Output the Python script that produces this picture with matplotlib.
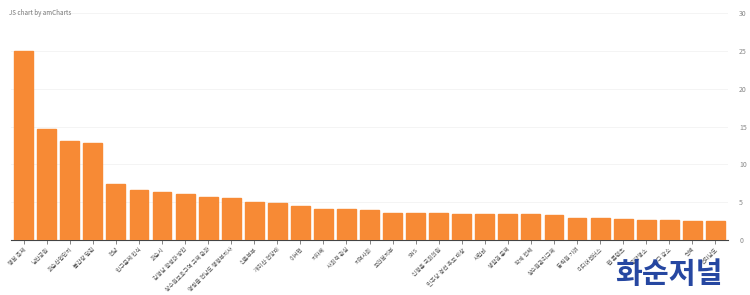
import matplotlib
matplotlib.use("Agg")
import matplotlib.pyplot as plt

plt.rcParams['font.family'] = ['Noto Sans CJK KR', 'DejaVu Sans']

keywords = [
    "행복 축제", "남산공원", "화순산업단지", "불갑장 달린", "전남",
    "인구문제 인식", "화순시", "김영남 활성화 방안", "상수원보호구역 규제 완화",
    "명칭을 전남도 행정부지사", "신혼부부", "개미산 전망대", "이서면", "지자체",
    "사회적 관심", "지역사회", "보건복지부", "SNS", "신정훈 국회의원",
    "민주당 경선 후보 대상", "사업비", "생활권 문제", "학계 전체",
    "상수원관리규제", "동력원 기여", "미디어센터스", "웹 콘텐츠", "관광명소",
    "인구 감소", "혁백", "전라남도",
]
scores = [
    25.0, 14.7, 13.1, 12.8, 7.4, 6.6, 6.3, 6.1, 5.7, 5.5, 5.0, 4.9, 4.5, 4.1,
    4.1, 4.0, 3.6, 3.6, 3.6, 3.4, 3.4, 3.4, 3.4, 3.3, 2.9, 2.9, 2.8, 2.6, 2.6,
    2.5, 2.5,
]
y_ticks = [0, 5, 10, 15, 20, 25, 30]

fig = plt.figure(figsize=(7.5, 2.95), dpi=100)
ax = fig.add_axes([0.0147, 0.1864, 0.956, 0.7695])

x = list(range(len(keywords)))
ax.bar(x, scores, width=0.82, color="#F78A35", edgecolor="#F78A35", zorder=3)

ax.set_xlim(-0.55, len(keywords) - 0.45)
ax.set_ylim(0, 30)
ax.yaxis.tick_right()
ax.set_yticks(y_ticks)
ax.set_yticklabels([str(v) for v in y_ticks], fontsize=5, color="#888888")
ax.tick_params(axis="y", length=0, pad=8)
ax.grid(axis="y", color="#f2f2f2", linewidth=0.6, zorder=0)

ax.set_xticks(x)
ax.set_xticklabels(keywords, rotation=45, ha="right", rotation_mode="anchor",
                   fontsize=4.1, color="#555555")
ax.tick_params(axis="x", length=3, width=0.5, color="#555555", pad=2)

for side in ("top", "left", "right"):
    ax.spines[side].set_visible(False)
ax.spines["bottom"].set_color("#444444")
ax.spines["bottom"].set_linewidth(0.8)

fig.text(0.012, 0.955, "JS chart by amCharts", fontsize=4.5, color="#777777",
         ha="left", va="center")
fig.text(0.892, 0.07, "화순저널", fontsize=21, fontweight="black",
         color="#1a3d9c", ha="center", va="center", alpha=0.95)

fig.savefig("out.png", dpi=100)
